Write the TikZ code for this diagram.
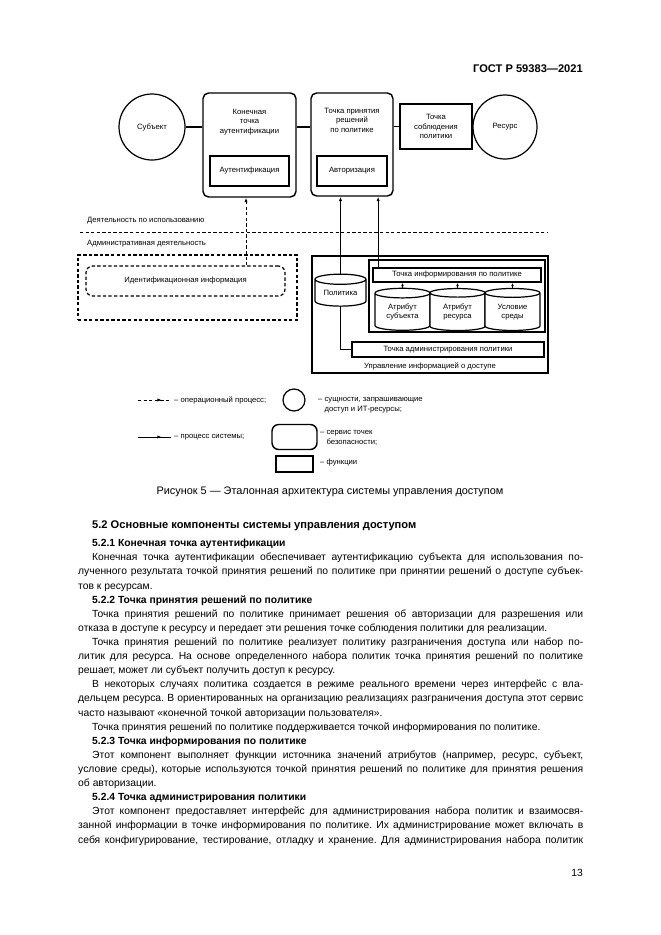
\documentclass[tikz,border=0pt]{standalone}
\usepackage{fontspec}
\setmainfont{Liberation Sans}
\usetikzlibrary{arrows.meta, positioning, shapes.geometric, decorations.markings}
\newdimen\px \px=0.9pt
\frenchspacing

\begin{document}
\begin{tikzpicture}[x=0.9pt, y=-0.9pt,
    font=\fontsize{6.9}{8.6}\selectfont,
    svc/.style={draw, rounded corners=5pt, line width=1.3pt},
    fn/.style={draw, line width=1.1pt, inner sep=1pt, align=center},
    ent/.style={circle, draw, line width=1.1pt, inner sep=0pt},
    store/.style={cylinder, shape border rotate=90, draw, fill=white, line width=1.1pt,
                  aspect=0.3, align=center, inner sep=0pt},
    ttl/.style={align=center, inner sep=0pt},
    ops/.style={dash pattern=on 3pt off 2pt, line width=0.9pt, -{Latex[length=4pt,width=3pt]}},
    sys/.style={line width=0.9pt, -{Latex[length=4pt,width=3pt]}},
    link/.style={line width=1.1pt},
    bodytext/.style={font=\fontsize{9.3}{12.7}\selectfont},
  ]
  \useasboundingbox (0,0) rectangle (661,935);

  % page header
  \node[anchor=base east, inner sep=0pt, font=\fontsize{10}{12}\selectfont\bfseries] (gost) at (583,72) {ГОСТ Р 59383---2021};

  % --- top row: subject, service points, resource ---
  \node[ent, minimum size=66\px] (subj) at (152,127) {Субъект};
  \node[svc, minimum width=93\px, minimum height=104\px] (authpt) at (249.5,145) {};
  \node[ttl] (authttl) at (249.5,122) {Конечная\\точка\\аутентификации};
  \node[fn, minimum width=79\px, minimum height=30\px] (authfn) at (249.5,171) {Аутентификация};
  \node[svc, minimum width=82\px, minimum height=103\px] (pdp) at (352,144.5) {};
  \node[ttl] (pdpttl) at (352,120) {Точка принятия\\решений\\по политике};
  \node[fn, minimum width=70\px, minimum height=30\px] (pdpfn) at (352,171) {Авторизация};
  \node[fn, minimum width=72\px, minimum height=45\px] (pep) at (436,126.5) {Точка\\соблюдения\\политики};
  \node[ent, minimum size=64\px] (res) at (505,127) {Ресурс};

  \draw[link] (subj.east) -- (subj.east -| authpt.west);
  \draw[link] (authpt.east |- subj.east) -- (pdp.west |- subj.east);
  \draw[link] (pdp.east |- pep.west) -- (pep.west);

  % --- divider between usage and administration ---
  \coordinate (divl) at (80,232);
  \coordinate (divr) at (548,232);
  \draw[dash pattern=on 3pt off 2pt, line width=0.9pt] (divl) -- (divr);
  \node[anchor=west, inner sep=0pt] (usetxt) at (87,221) {Деятельность по использованию};
  \node[anchor=west, inner sep=0pt] (admtxt) at (87,244) {Административная деятельность};

  % --- administrative area (left) ---
  \node[draw, dash pattern=on 3pt off 2pt, line width=1.1pt, minimum width=219\px, minimum height=65\px] (admarea) at (187.5,287.5) {};
  \node[draw, dash pattern=on 3pt off 2pt, rounded corners=6pt, line width=1.1pt,
        minimum width=199\px, minimum height=30\px] (idinfo) at (185.5,281) {Идентификационная информация};
  \coordinate (idtop) at ([xshift=60.5\px]idinfo.north);
  \draw[ops] (idtop) -- (idtop |- authpt.south);

  % --- access information management (right) ---
  \node[draw, line width=1.1pt, minimum width=236\px, minimum height=117\px] (aim) at (430,314.5) {};
  \node[inner sep=0pt] (aimtxt) at (430,366) {Управление информацией о доступе};
  \node[draw, line width=1.5pt, minimum width=176\px, minimum height=72\px] (pipgrp) at (457,296) {};
  \node[draw, line width=1.5pt, minimum width=168\px, minimum height=14\px, inner sep=0pt] (pip) at (457,275) {Точка информирования по политике};
  \node[store, minimum width=55\px, minimum height=42\px] (subjattr) at (402.5,312) {Атрибут\\субъекта};
  \node[store, minimum width=55\px, minimum height=42\px] (resattr) at (457.5,312) {Атрибут\\ресурса};
  \node[store, minimum width=55\px, minimum height=42\px] (envcond) at (512.5,312) {Условие\\среды};
  \node[store, minimum width=51\px, minimum height=32\px] (pol) at (340.5,293) {Политика};
  \node[draw, line width=1.5pt, minimum width=192\px, minimum height=15\px, inner sep=0pt] (pap) at (448,349.5) {Точка администрирования политики};

  \draw[sys] (pol.north) -- (pol.north |- pdp.south);
  \coordinate (piptap) at ([xshift=6\px]pip.north west);
  \draw[sys] (piptap) -- (piptap |- pdp.south);
  \draw[link] (pol.south) |- (pap.west);
  \foreach \c in {subjattr, resattr, envcond} {
    \draw[sys, -{Latex[length=3pt,width=2.5pt]}] (\c.north) -- (\c.north |- pip.south);
  }

  % --- legend ---
  \coordinate (lgopsa) at (138,400);
  \coordinate (lgopsb) at (171,400);
  \coordinate (lgsysa) at (138,437);
  \coordinate (lgsysb) at (171,437);
  \draw[dash pattern=on 3pt off 2pt, line width=0.9pt,
        postaction={decorate, decoration={markings, mark=at position 0.72 with {\arrow{Latex[length=4pt,width=3pt]}}}}] (lgopsa) -- (lgopsb);
  \draw[line width=0.9pt,
        postaction={decorate, decoration={markings, mark=at position 0.72 with {\arrow{Latex[length=4pt,width=3pt]}}}}] (lgsysa) -- (lgsysb);
  \node[anchor=west, inner sep=0pt] (lgopstxt) at (174,400) {– операционный процесс;};
  \node[anchor=west, inner sep=0pt] (lgsystxt) at (174,437) {– процесс системы;};
  \node[ent, minimum size=22\px] (lgent) at (294,400) {};
  \node[svc, minimum width=45\px, minimum height=25\px, rounded corners=6pt] (lgsvc) at (294.5,437) {};
  \node[fn, minimum width=37\px, minimum height=16\px] (lgfn) at (294.5,464) {};
  \node[anchor=west, align=left, inner sep=0pt] (lgenttxt) at (318,405.5) {– сущности, запрашивающие\\\phantom{– }доступ и ИТ-ресурсы;};
  \node[anchor=west, align=left, inner sep=0pt] (lgsvctxt) at (320,438) {– сервис точек\\\phantom{– }безопасности;};
  \node[anchor=west, inner sep=0pt] (lgfntxt) at (320,463) {– функции};

  % caption
  \node[inner sep=0pt, font=\fontsize{9.8}{11}\selectfont] (cap) at (330,492) {Рисунок 5 — Эталонная архитектура системы управления доступом};

  % --- running text ---
  \node[anchor=base west, inner sep=0pt, bodytext, font=\bfseries] (sec) at (92,528) {5.2 Основные компоненты системы управления доступом};
  \node[anchor=north west, inner sep=0pt, bodytext, text width=454.5pt, align=justify] (body) at (78,539) {%
    \parindent=12.6pt\hyphenpenalty=10000\indent
    \textbf{5.2.1 Конечная точка аутентификации}\par
    Конечная точка аутентификации обеспечивает аутентификацию субъекта для использования по-\linebreak
    лученного результата точкой принятия решений по политике при принятии решений о доступе субъек-\linebreak
    тов к ресурсам.\par
    \textbf{5.2.2 Точка принятия решений по политике}\par
    Точка принятия решений по политике принимает решения об авторизации для разрешения или\linebreak
    отказа в доступе к ресурсу и передает эти решения точке соблюдения политики для реализации.\par
    Точка принятия решений по политике реализует политику разграничения доступа или набор по-\linebreak
    литик для ресурса. На основе определенного набора политик точка принятия решений по политике\linebreak
    решает, может ли субъект получить доступ к ресурсу.\par
    В некоторых случаях политика создается в режиме реального времени через интерфейс с вла-\linebreak
    дельцем ресурса. В ориентированных на организацию реализациях разграничения доступа этот сервис\linebreak
    часто называют «конечной точкой авторизации пользователя».\par
    Точка принятия решений по политике поддерживается точкой информирования по политике.\par
    \textbf{5.2.3 Точка информирования по политике}\par
    Этот компонент выполняет функции источника значений атрибутов (например, ресурс, субъект,\linebreak
    условие среды), которые используются точкой принятия решений по политике для принятия решения\linebreak
    об авторизации.\par
    \textbf{5.2.4 Точка администрирования политики}\par
    Этот компонент предоставляет интерфейс для администрирования набора политик и взаимосвя-\linebreak
    занной информации в точке информирования по политике. Их администрирование может включать в\linebreak
    себя конфигурирование, тестирование, отладку и хранение. Для администрирования набора политик{\parfillskip=0pt\par}};

  % page number
  \node[anchor=base east, inner sep=0pt, bodytext] (pageno) at (583,876) {13};
\end{tikzpicture}
\end{document}
